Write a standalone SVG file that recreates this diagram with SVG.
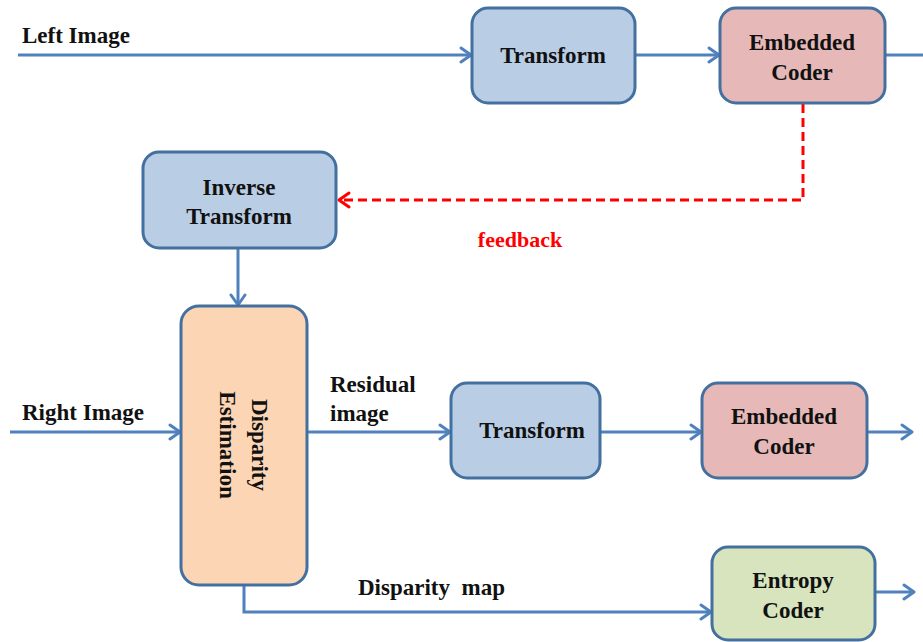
<svg xmlns="http://www.w3.org/2000/svg" width="923" height="642" viewBox="0 0 923 642" font-family="Liberation Serif, DejaVu Serif, serif">
  <style>
    .box { stroke: #44709f; stroke-width: 3; }
    .blue { fill: #b9cde5; }
    .pink { fill: #e6b9b8; }
    .peach { fill: #fcd5b5; }
    .green { fill: #d7e4bd; }
    .lbl { font-weight: bold; font-size: 23px; fill: #111; }
    .mid { text-anchor: middle; }
    .red { fill: #ff0000; font-size: 22px; }
    .wire { fill: none; stroke: #4f81bd; stroke-width: 3; }
    .fb { fill: none; stroke: #ff0000; stroke-width: 3; stroke-dasharray: 9 5; }
  </style>
  <defs>
    <marker id="arr" markerUnits="userSpaceOnUse" markerWidth="14" markerHeight="18" refX="12" refY="9" orient="auto" viewBox="0 0 14 18">
      <path d="M2,2 L12,9 L2,16" fill="none" stroke="#4f81bd" stroke-width="3" stroke-linecap="round" stroke-linejoin="round"/>
    </marker>
    <marker id="arrRed" markerUnits="userSpaceOnUse" markerWidth="14" markerHeight="18" refX="12" refY="9" orient="auto" viewBox="0 0 14 18">
      <path d="M2,2 L12,9 L2,16" fill="none" stroke="#ff0000" stroke-width="3" stroke-linecap="round" stroke-linejoin="round"/>
    </marker>
  </defs>

  <!-- connectors -->
  <g id="connectors">
    <path class="wire" d="M18,55 H471" marker-end="url(#arr)"/>
    <path class="wire" d="M635,55 H719" marker-end="url(#arr)"/>
    <path class="wire" d="M885,55 H923"/>
    <path class="fb" d="M803,104 V200 H339" marker-end="url(#arrRed)"/>
    <path class="wire" d="M238,249 V305" marker-end="url(#arr)"/>
    <path class="wire" d="M10,432 H180" marker-end="url(#arr)"/>
    <path class="wire" d="M308,432 H450" marker-end="url(#arr)"/>
    <path class="wire" d="M600,432 H701" marker-end="url(#arr)"/>
    <path class="wire" d="M867,432 H912" marker-end="url(#arr)"/>
    <path class="wire" d="M244,586 V612 H711" marker-end="url(#arr)"/>
    <path class="wire" d="M875,592 H914" marker-end="url(#arr)"/>
  </g>

  <!-- free labels -->
  <g id="labels">
    <text class="lbl" x="22" y="43">Left Image</text>
    <text class="lbl" x="22" y="420">Right Image</text>
    <text class="lbl" x="330" y="392">Residual</text>
    <text class="lbl" x="330" y="421">image</text>
    <text class="lbl" x="358" y="595" xml:space="preserve">Disparity  map</text>
    <text class="lbl red" x="520" y="247" text-anchor="middle">feedback</text>
  </g>

  <g id="transform-left">
    <rect class="box blue" x="472" y="8" width="163" height="95" rx="16"/>
    <text class="lbl mid" x="553" y="63">Transform</text>
  </g>

  <g id="embedded-coder-left">
    <rect class="box pink" x="720" y="8" width="165" height="95" rx="16"/>
    <text class="lbl mid" x="802" y="50">Embedded</text>
    <text class="lbl mid" x="802" y="80">Coder</text>
  </g>

  <g id="inverse-transform">
    <rect class="box blue" x="143" y="152" width="193" height="96" rx="16"/>
    <text class="lbl mid" x="239" y="195">Inverse</text>
    <text class="lbl mid" x="239" y="224">Transform</text>
  </g>

  <g id="disparity-estimation">
    <rect class="box peach" x="181" y="306" width="126" height="279" rx="18"/>
    <text class="lbl mid" transform="translate(252,445) rotate(90)">Disparity</text>
    <text class="lbl mid" transform="translate(220,445) rotate(90)">Estimation</text>
  </g>

  <g id="transform-right">
    <rect class="box blue" x="451" y="383" width="149" height="95" rx="16"/>
    <text class="lbl mid" x="532" y="438">Transform</text>
  </g>

  <g id="embedded-coder-right">
    <rect class="box pink" x="702" y="383" width="165" height="95" rx="16"/>
    <text class="lbl mid" x="784" y="424">Embedded</text>
    <text class="lbl mid" x="784" y="454">Coder</text>
  </g>

  <g id="entropy-coder">
    <rect class="box green" x="712" y="547" width="163" height="93" rx="16"/>
    <text class="lbl mid" x="793" y="588">Entropy</text>
    <text class="lbl mid" x="793" y="618">Coder</text>
  </g>
</svg>
